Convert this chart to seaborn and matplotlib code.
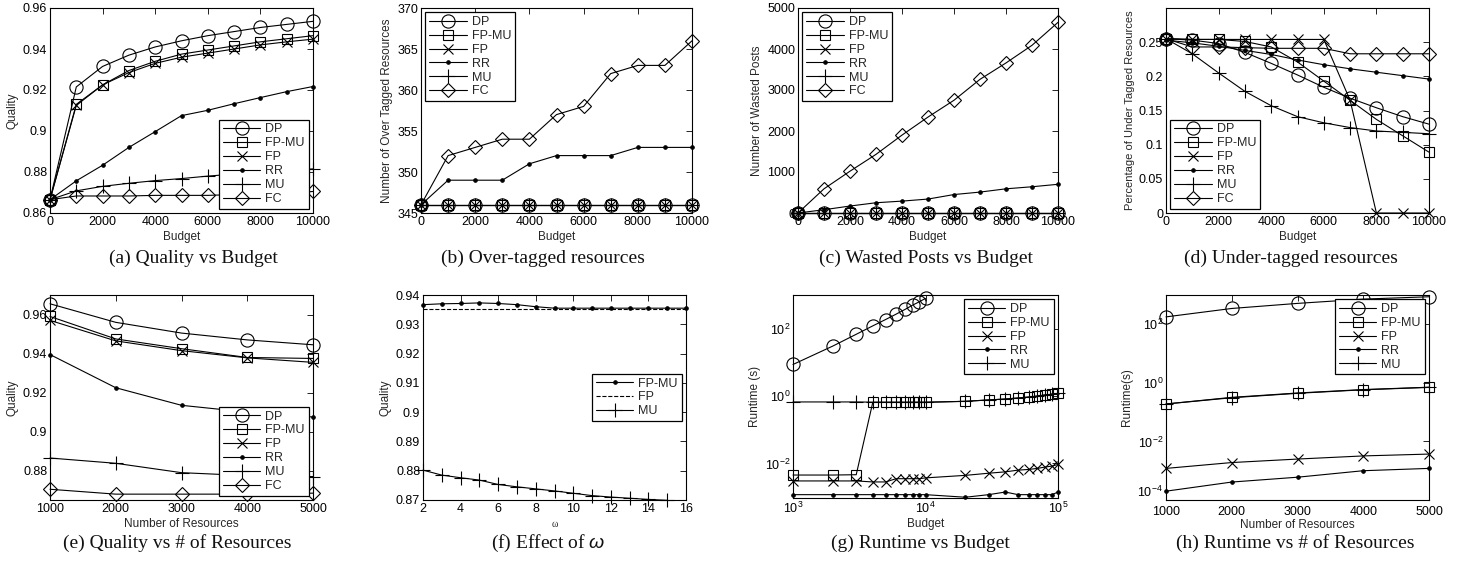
import numpy as np
import seaborn as sns
import matplotlib
matplotlib.use("Agg")
import matplotlib.pyplot as plt
from matplotlib.ticker import NullLocator

# ---- datos ----
budget = [0, 1000, 2000, 3000, 4000, 5000, 6000, 7000, 8000, 9000, 10000]

qual_dp = [0.8665, 0.9215, 0.9315, 0.937, 0.941, 0.944, 0.9465, 0.9485, 0.9505, 0.952, 0.9535]
qual_fpmu = [0.8665, 0.913, 0.9225, 0.9295, 0.934, 0.9375, 0.9395, 0.9415, 0.9435, 0.945, 0.9465]
qual_fp = [0.8665, 0.9125, 0.9225, 0.9285, 0.933, 0.936, 0.938, 0.940, 0.942, 0.9435, 0.9448]
qual_rr = [0.8665, 0.8757, 0.8833, 0.892, 0.8997, 0.9075, 0.9101, 0.9133, 0.9163, 0.9192, 0.9217]
qual_mu = [0.8665, 0.8708, 0.873, 0.8745, 0.8758, 0.8768, 0.878, 0.879, 0.880, 0.8808, 0.8815]
qual_fc = [0.8665, 0.8683, 0.8683, 0.8683, 0.8686, 0.8686, 0.8686, 0.869, 0.869, 0.8695, 0.8705]

over_flat = [346] * 11
over_rr = [346, 349, 349, 349, 351, 352, 352, 352, 353, 353, 353]
over_fc = [346, 352, 353, 354, 354, 357, 358, 362, 363, 363, 366]

waste_flat = [0] * 11
waste_rr = [0, 80, 170, 250, 290, 340, 450, 510, 590, 640, 700]
waste_fc = [0, 590, 1020, 1430, 1900, 2340, 2750, 3260, 3660, 4090, 4650]

under_dp = [0.255, 0.253, 0.248, 0.235, 0.219, 0.202, 0.184, 0.168, 0.154, 0.141, 0.130]
under_fpmu = [0.255, 0.254, 0.254, 0.251, 0.243, 0.221, 0.193, 0.165, 0.137, 0.113, 0.089]
under_fp = [0.255, 0.254, 0.254, 0.254, 0.254, 0.254, 0.254, 0.165, 0.0, 0.0, 0.0]
under_rr = [0.253, 0.249, 0.244, 0.238, 0.232, 0.224, 0.217, 0.211, 0.206, 0.201, 0.196]
under_mu = [0.255, 0.233, 0.205, 0.178, 0.157, 0.141, 0.132, 0.125, 0.120, 0.118, 0.116]
under_fc = [0.255, 0.243, 0.243, 0.242, 0.241, 0.241, 0.241, 0.233, 0.233, 0.233, 0.233]

resources = [1000, 2000, 3000, 4000, 5000]
res_dp = [0.9655, 0.956, 0.9505, 0.947, 0.9445]
res_fpmu = [0.959, 0.9475, 0.9425, 0.938, 0.9375]
res_fp = [0.957, 0.9465, 0.9415, 0.9378, 0.9355]
res_rr = [0.9395, 0.9225, 0.9135, 0.910, 0.9075]
res_mu = [0.8865, 0.8838, 0.879, 0.8775, 0.877]
res_fc = [0.8705, 0.868, 0.868, 0.868, 0.8685]

omega = list(range(2, 17))
omega_mu_x = list(range(2, 16))
om_fpmu = [0.9367, 0.937, 0.9371, 0.9373, 0.9371, 0.9367, 0.936, 0.9355, 0.9355,
           0.9355, 0.9355, 0.9355, 0.9355, 0.9355, 0.9355]
om_fp = [0.9353] * 15
om_mu = [0.8802, 0.8785, 0.8776, 0.8768, 0.8753, 0.8745, 0.8738, 0.8731, 0.8723,
         0.8715, 0.871, 0.8706, 0.8702, 0.8699]

rt_dp_x = [1000, 2000, 3000, 4000, 5000, 6000, 7000, 8000, 9000, 10000]
rt_x = [1000, 2000, 3000, 4000, 5000, 6000, 7000, 8000, 9000, 10000,
        20000, 30000, 40000, 50000, 60000, 70000, 80000, 90000, 100000]
rt_dp = [8.9, 31.6, 70.8, 126, 195, 282, 389, 525, 661, 832]
rt_fpmu = [0.0045, 0.0045, 0.0046, 0.66, 0.66, 0.66, 0.66, 0.66, 0.66, 0.66,
           0.71, 0.78, 0.83, 0.89, 0.95, 1.02, 1.1, 1.15, 1.23]
rt_fp = [0.0030, 0.0030, 0.0030, 0.0028, 0.0028, 0.0035, 0.0035, 0.0035, 0.0035, 0.0037,
         0.0044, 0.0051, 0.0056, 0.0063, 0.0066, 0.0071, 0.0078, 0.0083, 0.0093]
rt_rr = [0.00117, 0.00117, 0.00117, 0.00117, 0.00117, 0.00117, 0.00117, 0.00117, 0.00117, 0.00117,
         0.00098, 0.00117, 0.0014, 0.00117, 0.00117, 0.00117, 0.00117, 0.00117, 0.0014]
rt_mu = [0.68, 0.68, 0.68, 0.67, 0.67, 0.67, 0.67, 0.67, 0.67, 0.67,
         0.71, 0.78, 0.83, 0.89, 0.95, 1.02, 1.1, 1.15, 1.23]

rtr_dp = [179, 347, 517, 724, 871]
rtr_fpmu = [0.19, 0.32, 0.45, 0.59, 0.71]
rtr_mu = [0.19, 0.31, 0.44, 0.58, 0.70]
rtr_fp = [0.0012, 0.0019, 0.0025, 0.0032, 0.0037]
rtr_rr = [0.0002, 0.00041, 0.0006, 0.001, 0.0012]

# ---- estilo ----
sns.set_theme(style="white")
plt.rcParams['font.family'] = ['Liberation Sans', 'DejaVu Sans']
plt.rcParams['mathtext.fontset'] = 'custom'
plt.rcParams['mathtext.rm'] = 'Liberation Sans'
plt.rcParams['mathtext.it'] = 'Liberation Sans:italic'

K = "black"
STY = {
    "DP": dict(marker="o", markersize=9.5, markerfacecolor="none"),
    "FP-MU": dict(marker="s", markersize=7, markerfacecolor="none"),
    "FP": dict(marker="x", markersize=7),
    "RR": dict(marker=".", markersize=5, markerfacecolor=K),
    "MU": dict(marker="+", markersize=10),
    "FC": dict(marker="D", markersize=7.5, markerfacecolor="none"),
}

W, H = 1461, 563
fig = plt.figure(figsize=(W / 100, H / 100), dpi=100)


def make_ax(l, r, t, b):
    ax = fig.add_axes([l / W, (H - b) / H, (r - l) / W, (b - t) / H])
    for s in ax.spines.values():
        s.set_color(K)
        s.set_linewidth(0.8)
    ax.tick_params(direction="in", top=True, right=True, length=4, width=0.6,
                   labelsize=9, colors=K, pad=2)
    return ax


def draw(ax, x, y, name, label=None):
    # name elige el marcador, label el texto de la leyenda
    sns.lineplot(x=x, y=y, ax=ax, color=K, linewidth=0.8, markeredgecolor=K,
                 markeredgewidth=0.8, label=label or name, sort=False, **STY[name])


def legend(ax, **kw):
    lg = ax.legend(fontsize=9, frameon=True, fancybox=False, edgecolor=K, framealpha=1,
                   handlelength=3.0, labelspacing=0.15, borderpad=0.3, handletextpad=0.4,
                   borderaxespad=0.35, **kw)
    lg.get_frame().set_linewidth(0.9)


def caption(x, y, txt):
    fig.text(x / W, 1 - y / H, txt, ha="center", va="center", fontsize=14,
             family=["Liberation Serif", "DejaVu Serif"], color="#111111")


ROW1_CAP, ROW2_CAP = 258, 543

# (a)
ax = make_ax(50, 313, 8, 213)
for n, v in [("DP", qual_dp), ("FP-MU", qual_fpmu), ("FP", qual_fp), ("RR", qual_rr),
             ("MU", qual_mu), ("FC", qual_fc)]:
    draw(ax, budget, v, n)
ax.set_xlim(0, 10000)
ax.set_ylim(0.86, 0.96)
ax.set_xticks([0, 2000, 4000, 6000, 8000, 10000])
ax.set_yticks([0.86, 0.88, 0.9, 0.92, 0.94, 0.96])
ax.set_yticklabels(["0.86", "0.88", "0.9", "0.92", "0.94", "0.96"])
ax.set_xlabel("Budget", fontsize=8.5, labelpad=2.5)
ax.set_ylabel("Quality", fontsize=8.5, labelpad=3)
legend(ax, loc="lower right")
caption(193, ROW1_CAP, "(a) Quality vs Budget")

# (b)
ax = make_ax(421, 692, 8, 213)
for n, v in [("DP", over_flat), ("FP-MU", over_flat), ("FP", over_flat), ("RR", over_rr),
             ("MU", over_flat), ("FC", over_fc)]:
    draw(ax, budget, v, n)
ax.set_xlim(0, 10000)
ax.set_ylim(345, 370)
ax.set_xticks([0, 2000, 4000, 6000, 8000, 10000])
ax.set_yticks([345, 350, 355, 360, 365, 370])
ax.set_xlabel("Budget", fontsize=8.5, labelpad=2.5)
ax.set_ylabel("Number of Over Tagged Resources", fontsize=8.5, labelpad=3)
legend(ax, loc="upper left")
caption(543, ROW1_CAP, "(b) Over-tagged resources")

# (c)
ax = make_ax(798, 1058, 8, 213)
for n, v in [("DP", waste_flat), ("FP-MU", waste_flat), ("FP", waste_flat), ("RR", waste_rr),
             ("MU", waste_flat), ("FC", waste_fc)]:
    draw(ax, budget, v, n)
ax.set_xlim(0, 10000)
ax.set_ylim(0, 5000)
ax.set_xticks([0, 2000, 4000, 6000, 8000, 10000])
ax.set_yticks([0, 1000, 2000, 3000, 4000, 5000])
ax.set_xlabel("Budget", fontsize=8.5, labelpad=2.5)
ax.set_ylabel("Number of Wasted Posts", fontsize=8.5, labelpad=3)
legend(ax, loc="upper left")
caption(926, ROW1_CAP, "(c) Wasted Posts vs Budget")

# (d)
ax = make_ax(1166, 1429, 8, 213)
for n, v in [("DP", under_dp), ("FP-MU", under_fpmu), ("FP", under_fp), ("RR", under_rr),
             ("MU", under_mu), ("FC", under_fc)]:
    draw(ax, budget, v, n)
ax.set_xlim(0, 10000)
ax.set_ylim(0, 0.3)
ax.set_xticks([0, 2000, 4000, 6000, 8000, 10000])
ax.set_yticks([0, 0.05, 0.1, 0.15, 0.2, 0.25])
ax.set_yticklabels(["0", "0.05", "0.1", "0.15", "0.2", "0.25"])
ax.set_xlabel("Budget", fontsize=8.5, labelpad=2.5)
ax.set_ylabel("Percentage of Under Tagged Resources", fontsize=8, labelpad=3)
legend(ax, loc="lower left")
caption(1291, ROW1_CAP, "(d) Under-tagged resources")

# (e)
ax = make_ax(50, 313, 295, 500)
for n, v in [("DP", res_dp), ("FP-MU", res_fpmu), ("FP", res_fp), ("RR", res_rr),
             ("MU", res_mu), ("FC", res_fc)]:
    draw(ax, resources, v, n)
ax.set_xlim(1000, 5000)
ax.set_ylim(0.865, 0.97)
ax.set_xticks(resources)
ax.set_yticks([0.88, 0.9, 0.92, 0.94, 0.96])
ax.set_yticklabels(["0.88", "0.9", "0.92", "0.94", "0.96"])
ax.set_xlabel("Number of Resources", fontsize=8.5, labelpad=2.5)
ax.set_ylabel("Quality", fontsize=8.5, labelpad=3)
legend(ax, loc="lower right")
caption(177, ROW2_CAP, "(e) Quality vs # of Resources")

# (f)
ax = make_ax(423, 686, 295, 500)
draw(ax, omega, om_fpmu, "RR", label="FP-MU")
sns.lineplot(x=omega, y=om_fp, ax=ax, color=K, linewidth=0.8, linestyle="--", label="FP")
draw(ax, omega_mu_x, om_mu, "MU")
ax.set_xlim(2, 16)
ax.set_ylim(0.87, 0.94)
ax.set_xticks([2, 4, 6, 8, 10, 12, 14, 16])
ax.set_yticks([0.87, 0.88, 0.89, 0.9, 0.91, 0.92, 0.93, 0.94])
ax.set_yticklabels(["0.87", "0.88", "0.89", "0.9", "0.91", "0.92", "0.93", "0.94"])
ax.set_xlabel("ω", fontsize=7, labelpad=4, family=["Liberation Serif", "DejaVu Serif"])
ax.set_ylabel("Quality", fontsize=8.5, labelpad=3)
legend(ax, loc="center right")
caption(548, ROW2_CAP, "(f) Effect of $\\omega$")

# (g)
ax = make_ax(793, 1058, 295, 498)
draw(ax, rt_dp_x, rt_dp, "DP")
draw(ax, rt_x, rt_fpmu, "FP-MU")
draw(ax, rt_x, rt_fp, "FP")
draw(ax, rt_x, rt_rr, "RR")
draw(ax, rt_x, rt_mu, "MU")
ax.set_xscale("log")
ax.set_yscale("log")
ax.set_xlim(1000, 100000)
ax.set_ylim(9.3e-4, 1.05e3)
ax.set_xticks([1e3, 1e4, 1e5])
ax.set_yticks([1e-2, 1e0, 1e2])
ax.xaxis.set_minor_locator(NullLocator())
ax.yaxis.set_minor_locator(NullLocator())
ax.set_xlabel("Budget", fontsize=8.5, labelpad=1.5)
ax.set_ylabel("Runtime (s)", fontsize=8.5, labelpad=3)
legend(ax, loc="upper right")
caption(920, ROW2_CAP, "(g) Runtime vs Budget")

# (h)
ax = make_ax(1166, 1429, 295, 500)
draw(ax, resources, rtr_dp, "DP")
draw(ax, resources, rtr_fpmu, "FP-MU")
draw(ax, resources, rtr_fp, "FP")
draw(ax, resources, rtr_rr, "RR")
draw(ax, resources, rtr_mu, "MU")
ax.set_yscale("log")
ax.set_xlim(1000, 5000)
ax.set_ylim(1e-4, 1e3)
ax.set_xticks(resources)
ax.set_yticks([1e-4, 1e-2, 1e0, 1e2])
ax.yaxis.set_minor_locator(NullLocator())
ax.tick_params(axis="x", pad=4)
ax.set_xlabel("Number of Resources", fontsize=8.5, labelpad=1)
ax.set_ylabel("Runtime(s)", fontsize=8.5, labelpad=3)
# la etiqueta 10^-4 se sube un poco para no pisar el "1000"
ax.get_yticklabels()[0].set_va("bottom")
legend(ax, loc="upper right")
caption(1295, ROW2_CAP, "(h) Runtime vs # of Resources")

for a in fig.axes:
    for line in a.get_lines():
        line.set_clip_on(False)

fig.savefig("out.png", dpi=100, facecolor="white")
